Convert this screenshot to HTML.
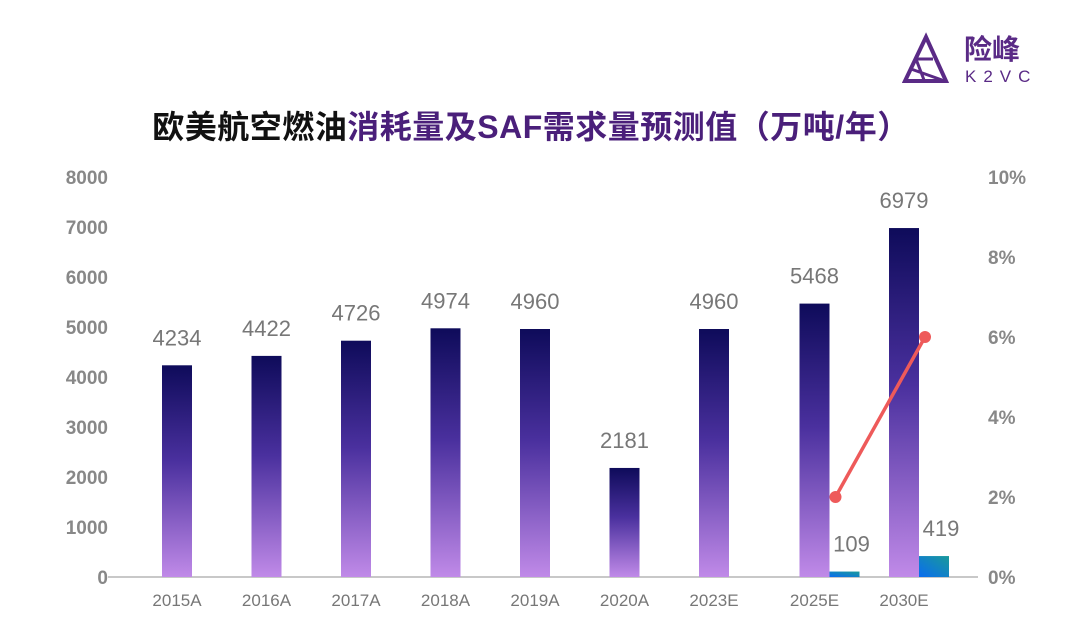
<!DOCTYPE html>
<html><head><meta charset="utf-8"><style>
body{margin:0;background:#fff;}
#wrap{position:relative;width:1080px;height:635px;overflow:hidden;font-family:"Liberation Sans","Noto Sans CJK SC",sans-serif;}
#title{position:absolute;left:0;width:1062px;top:102px;text-align:center;font-size:32px;font-weight:bold;font-family:"Liberation Sans","Noto Sans CJK SC",sans-serif;color:#4a1f7a;letter-spacing:0.5px}
#title .b{color:#111}
#logo{position:absolute;left:902px;top:32px}
</style></head><body>
<div id="wrap">
<div id="logo">
<svg width="150" height="56"><polygon points="24,5 44,49 3,49" fill="none" stroke="#5a2a86" stroke-width="4"/><path d="M14,27 L31,27 M9,37 L40,48 M14,27 L22,48" stroke="#5a2a86" stroke-width="3" fill="none"/>
<text x="62" y="27" font-size="28" font-weight="bold" fill="#5a2a86" font-family="Noto Sans CJK SC,sans-serif">险峰</text>
<text x="63" y="50" font-size="17" fill="#5a2a86" letter-spacing="7" font-family="Liberation Sans,sans-serif">K2VC</text></svg></div>
<div id="title"><span class="b">欧美航空燃油</span>消耗量及SAF需求量预测值（万吨/年）</div>
<svg id="chart" width="1080" height="635" style="position:absolute;left:0;top:0">
<defs>
<linearGradient id="gp" x1="0" y1="0" x2="0" y2="1"><stop offset="0" stop-color="#0e0b5a"/><stop offset="0.45" stop-color="#4a309e"/><stop offset="1" stop-color="#c08ae8"/></linearGradient>
<linearGradient id="gb" x1="0" y1="1" x2="1" y2="0"><stop offset="0" stop-color="#0a6cf0"/><stop offset="1" stop-color="#1a9a9a"/></linearGradient>
</defs>
</svg>
</div>
<script>
const categories=["2015A","2016A","2017A","2018A","2019A","2020A","2023E","2025E","2030E"];
const fuelValues=[4234,4422,4726,4974,4960,2181,4960,5468,6979];
const safValues=[null,null,null,null,null,null,null,109,419];
const safShare=[null,null,null,null,null,null,null,2,6];
const leftTicks=[0,1000,2000,3000,4000,5000,6000,7000,8000];
const rightTicks=[0,2,4,6,8,10];
const svg=document.getElementById('chart');const NS='http://www.w3.org/2000/svg';
const y0=577,yTop=177;
const yL=v=>y0-(v/8000)*(y0-yTop);
const yR=v=>y0-(v/10)*(y0-yTop);
const xC=i=>177+i*89.5;
function mk(t,a,txt){const e=document.createElementNS(NS,t);for(const k in a)e.setAttribute(k,a[k]);if(txt!==undefined)e.textContent=txt;svg.appendChild(e);return e;}
let ax=mk('line',{x1:108,x2:978,y1:y0,y2:y0,stroke:'#c8c8c8','stroke-width':2});


leftTicks.forEach(v=>{const t=mk('text',{x:108,y:yL(v)+7,'text-anchor':'end','font-size':19,'font-weight':'bold',fill:'#888'},v);

});
rightTicks.forEach(v=>{const t=mk('text',{x:988,y:yR(v)+7,'font-size':19,'font-weight':'bold',fill:'#888'},v+'%');

});
const pts=[];
categories.forEach((c,i)=>{const cx=xC(i);const paired=safValues[i]!=null;
const bx=paired?cx-4:cx-15;
const r=mk('rect',{x:bx,y:yL(fuelValues[i]),width:30,height:y0-yL(fuelValues[i]),fill:'url(#gp)'});


const l=mk('text',{x:bx+15,y:yL(fuelValues[i])-20,'text-anchor':'middle','font-size':22,fill:'#777'},fuelValues[i]);


const xl=mk('text',{x:paired?cx+11:cx,y:606,'text-anchor':'middle','font-size':17,fill:'#777'},c);


if(paired){const sx=bx+30;
const s=mk('rect',{x:sx,y:yL(safValues[i]),width:30,height:y0-yL(safValues[i]),fill:'url(#gb)'});


const sl=mk('text',{x:sx+22,y:yL(safValues[i])-20,'text-anchor':'middle','font-size':22,fill:'#777'},safValues[i]);


pts.push([sx+6,yR(safShare[i])]);}
});
const pl=mk('polyline',{points:pts.map(p=>p.join(',')).join(' '),fill:'none',stroke:'#ee5a5a','stroke-width':3.5});


pts.forEach(p=>{const c=mk('circle',{cx:p[0],cy:p[1],r:6,fill:'#ee5a5a'});

});
</script>
</body></html>
